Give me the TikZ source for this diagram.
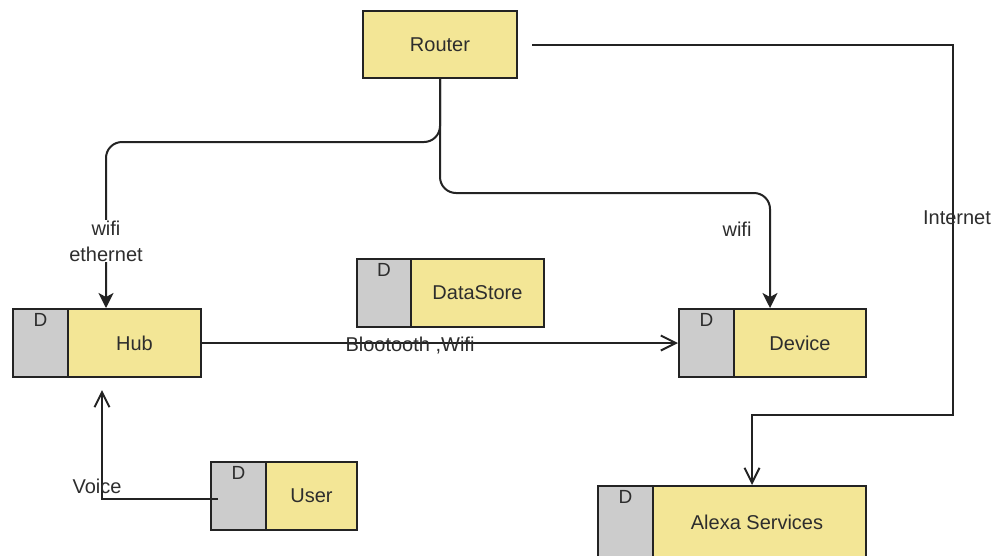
\documentclass[tikz,border=0pt]{standalone}
\usepackage{fontspec}
\setmainfont{Liberation Sans}
\usetikzlibrary{arrows.meta,calc}
\definecolor{boxyellow}{RGB}{243,230,150}
\definecolor{boxgray}{RGB}{204,204,204}
\definecolor{edgecol}{RGB}{35,35,35}
\definecolor{txt}{RGB}{45,45,45}
\begin{document}
\begin{tikzpicture}[x=1pt,y=-1pt,
  part/.style={draw=edgecol, line width=2pt, minimum height=68pt, inner sep=0pt, anchor=north west, font=\fontsize{20}{22}\selectfont, text=txt},
  ypart/.style={part, fill=boxyellow},
  gpart/.style={part, fill=boxgray, minimum width=55pt},
  dlab/.style={font=\fontsize{19}{20}\selectfont, text=txt, inner sep=0pt},
  lbl/.style={font=\fontsize{20}{26}\selectfont, text=txt, inner sep=1pt, align=center},
  conn/.style={draw=edgecol, line width=2pt},
  fillarrow/.style={-{Stealth[length=15pt,width=15pt,inset=4pt]}},
  openarrow/.style={-{Straight Barb[length=15pt,width=15pt]}}]
\useasboundingbox (0,0) rectangle (998,555);
\clip (0,0) rectangle (998,555);
\fill[white] (0,0) rectangle (998,555);

% boxes
\node[ypart, minimum width=154pt, minimum height=67pt] (router) at (362,10) {Router};

\node[gpart] (hubd) at (12,308) {};
\node[ypart, minimum width=133pt] (hub) at (67,308) {Hub};
\node[dlab] (hubdl) at ([yshift=-12pt]hubd.north) {D};

\node[gpart, minimum width=54pt] (dsd) at (356,258) {};
\node[ypart, minimum width=133pt] (ds) at (410,258) {DataStore};
\node[dlab] (dsdl) at ([yshift=-12pt]dsd.north) {D};

\node[gpart] (devd) at (678,308) {};
\node[ypart, minimum width=132pt] (device) at (733,308) {Device};
\node[dlab] (devdl) at ([yshift=-12pt]devd.north) {D};

\node[gpart] (userd) at (210,461) {};
\node[ypart, minimum width=91pt] (user) at (265,461) {User};
\node[dlab] (userdl) at ([yshift=-12pt]userd.north) {D};

\node[gpart, minimum height=90pt] (alexad) at (597,485) {};
\node[ypart, minimum width=213pt, minimum height=90pt] (alexa) at (652,485) {};
\node[font=\fontsize{20}{22}\selectfont, text=txt] (alexat) at (757,522) {Alexa Services};
\node[dlab] (alexadl) at ([yshift=-12pt]alexad.north) {D};

% connectors
\coordinate (hubin) at ([xshift=39pt]hub.north west);
\coordinate (devin) at ([xshift=37pt]device.north west);
\coordinate (rout) at ([xshift=14pt]router.east);
\coordinate (alexin) at ([xshift=100pt]alexa.north west);
\coordinate (ustart) at ([xshift=8pt,yshift=-3pt]userd.west);
\coordinate (hubout) at ([xshift=35pt,yshift=-12pt]hub.south west);

\draw[conn, rounded corners=16pt, fillarrow] (router.south) -- (router.south |- 0,142) -- (hubin |- 0,142) -- (hubin);
\draw[conn, rounded corners=16pt, fillarrow] (router.south) -- (router.south |- 0,193) -- (devin |- 0,193) -- (devin);
\draw[conn, openarrow] (rout) -| (953,415) -| (alexin);
\draw[conn, openarrow] (hub.east) -- (devd.west);
\draw[conn, openarrow] (ustart) -| (hubout);

% labels
\node[lbl, fill=white] (l1) at (106,241) {wifi\\ethernet};
\node[lbl] (l2) at (737,229) {wifi};
\node[lbl] (l3) at (957,218) {Internet};
\node[lbl] (l4) at (410,346) {Blootooth ,Wifi};
\node[lbl] (l5) at (97,486) {Voice};
\end{tikzpicture}
\end{document}
